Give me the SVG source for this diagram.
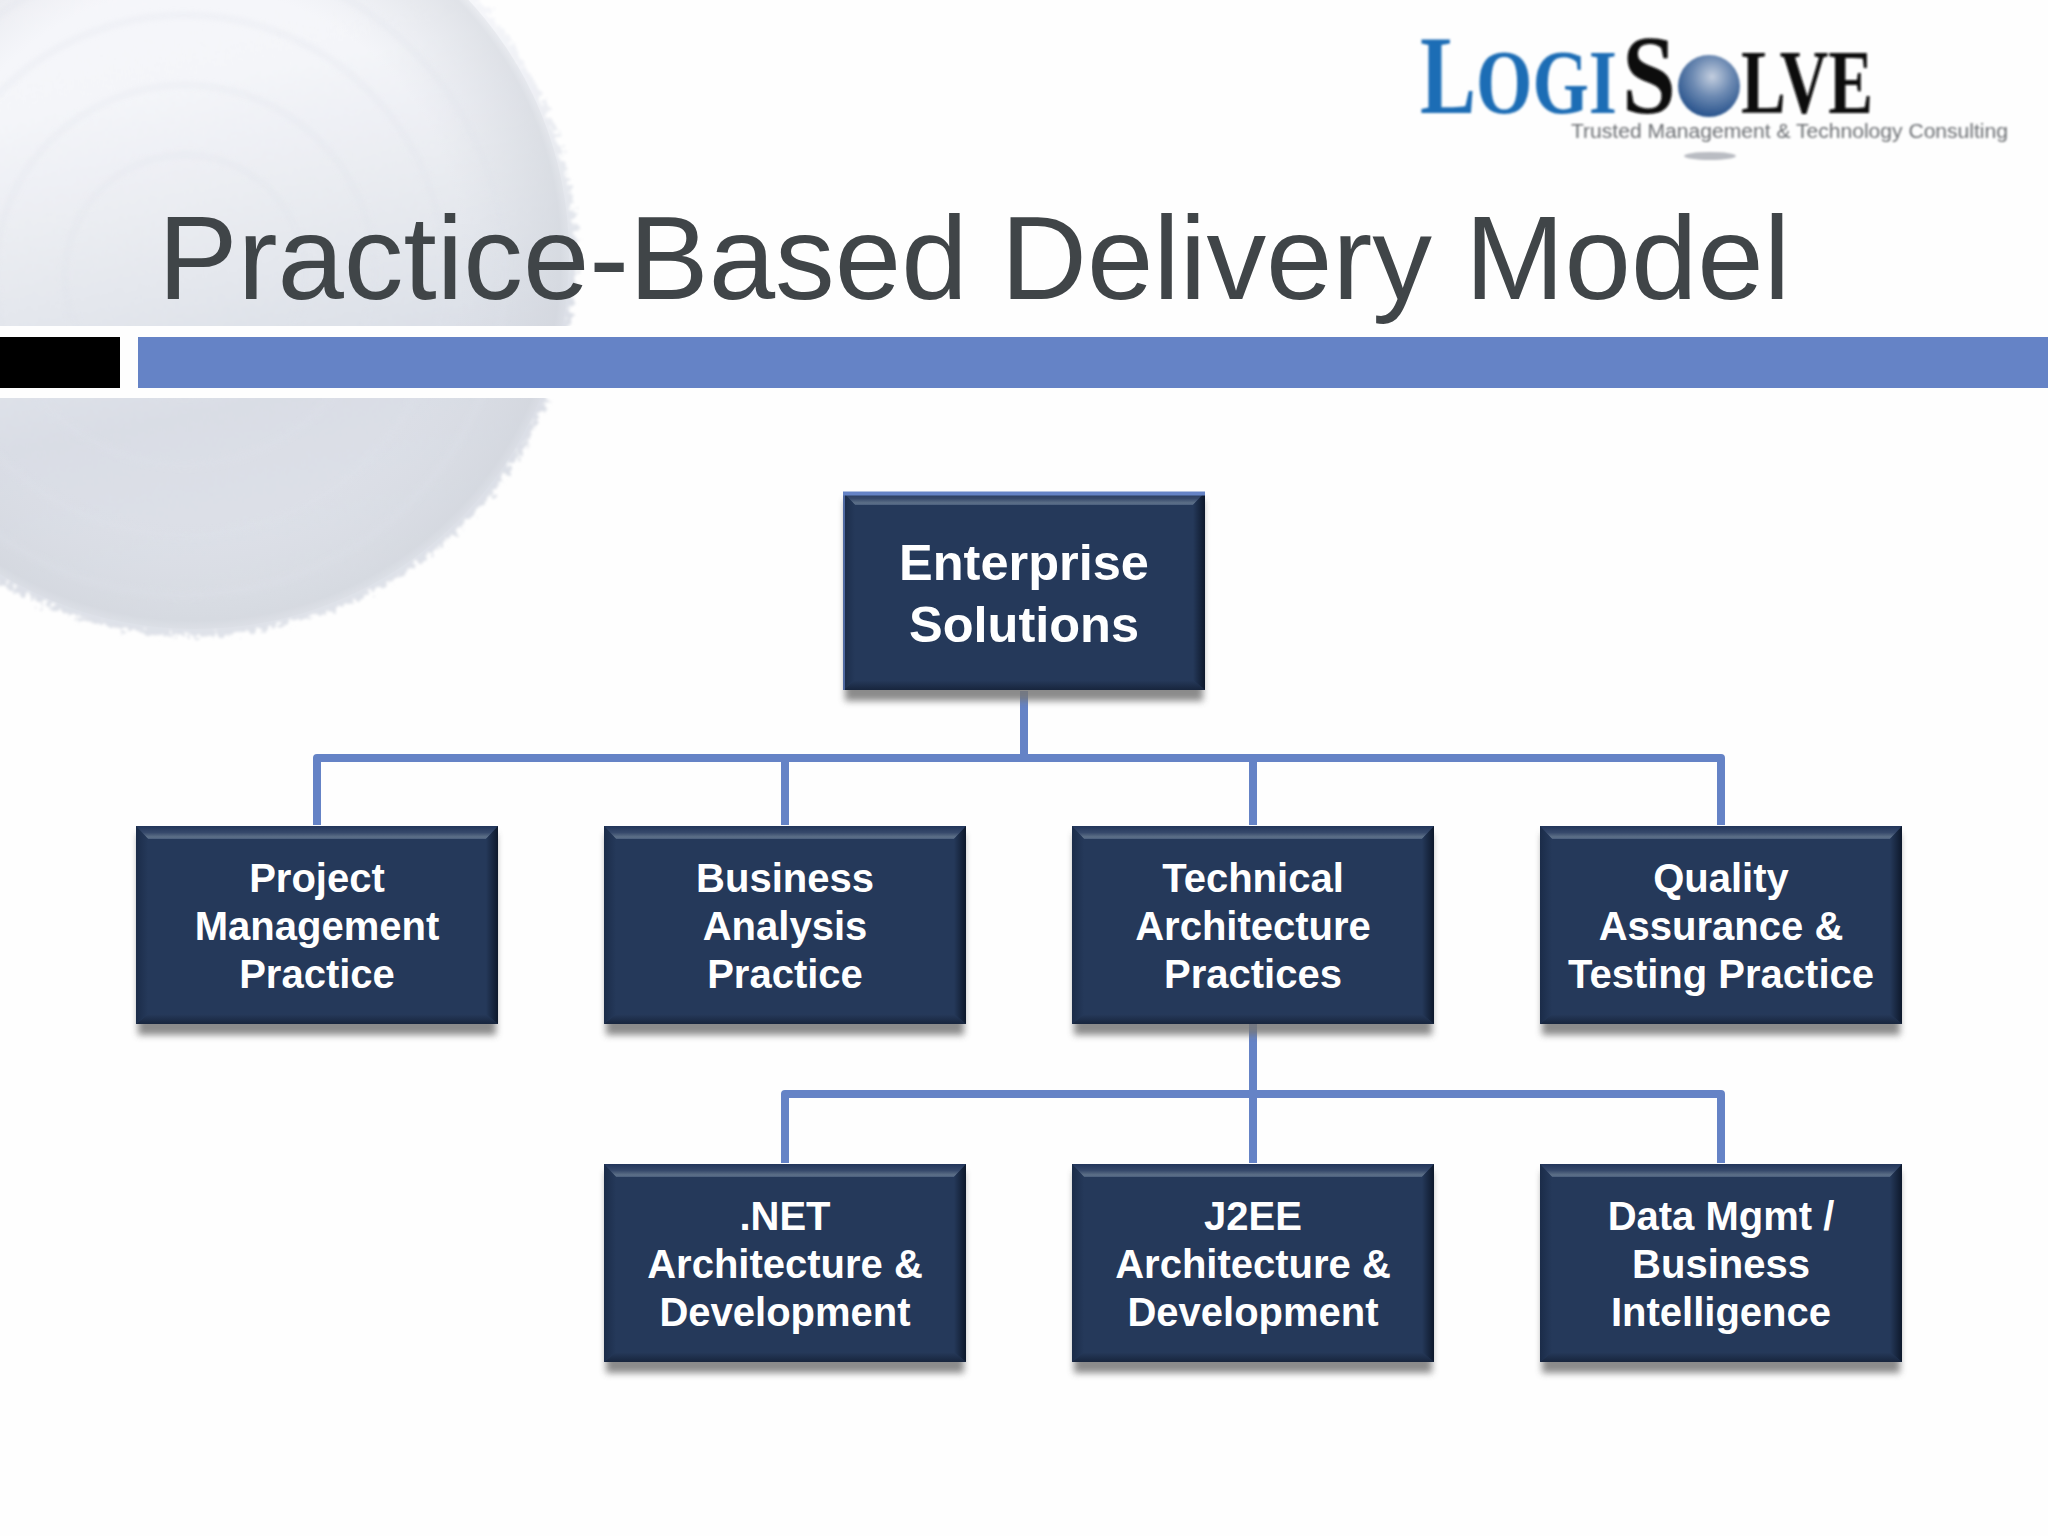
<svg xmlns="http://www.w3.org/2000/svg" width="2048" height="1536" viewBox="0 0 2048 1536">
<style>
.t{font-family:"Liberation Sans",Arial,sans-serif;font-weight:700;fill:#fff;text-anchor:middle;font-size:40px}
.r{font-size:50.500px}
.c{fill:none;stroke:#6583C6;stroke-width:8;stroke-linejoin:round;stroke-linecap:butt}
.ls{font-family:"Liberation Serif","Times New Roman",serif;font-weight:700}
</style>
<defs>
<linearGradient id="sph" x1="0.3" y1="0" x2="0.5" y2="1"><stop offset="0" stop-color="#f7f8fb"/><stop offset="0.3" stop-color="#f4f5f9"/><stop offset="0.55" stop-color="#e4e7ed"/><stop offset="0.72" stop-color="#d9dde5"/><stop offset="1" stop-color="#dfe2e9"/></linearGradient>
<radialGradient id="edge" gradientUnits="userSpaceOnUse" cx="195" cy="255" r="381"><stop offset="0.7" stop-color="#d5d9e0" stop-opacity="0"/><stop offset="0.96" stop-color="#cfd3da" stop-opacity="0.55"/><stop offset="1" stop-color="#dde0e6" stop-opacity="0.2"/></radialGradient>
<filter id="rough" x="-5%" y="-5%" width="110%" height="110%"><feTurbulence type="fractalNoise" baseFrequency="0.16" numOctaves="3" seed="7"/><feDisplacementMap in="SourceGraphic" scale="20" xChannelSelector="R" yChannelSelector="G"/><feGaussianBlur stdDeviation="1.6"/></filter>
<filter id="soft"><feGaussianBlur stdDeviation="3"/></filter>
<filter id="b05" x="-5%" y="-5%" width="110%" height="110%"><feGaussianBlur stdDeviation="0.9"/></filter>
<filter id="b1" x="-5%" y="-30%" width="110%" height="160%"><feGaussianBlur stdDeviation="0.8"/></filter>
<filter id="shadow" x="-5%" y="-10%" width="110%" height="120%"><feGaussianBlur stdDeviation="3.500"/></filter>
<radialGradient id="ball" cx="0.55" cy="0.35" r="0.7"><stop offset="0" stop-color="#c3cedf"/><stop offset="0.45" stop-color="#6e8bb3"/><stop offset="1" stop-color="#1d4a86"/></radialGradient>
<linearGradient id="bt" x1="0" y1="0" x2="0" y2="1"><stop offset="0" stop-color="#22355a"/><stop offset="0.5" stop-color="#36496b"/><stop offset="0.85" stop-color="#5d7088"/><stop offset="1" stop-color="#4a5e7d"/></linearGradient>
<linearGradient id="bb" x1="0" y1="0" x2="0" y2="1"><stop offset="0" stop-color="#263a5b"/><stop offset="1" stop-color="#17253d"/></linearGradient>
<linearGradient id="bl" x1="0" y1="0" x2="1" y2="0"><stop offset="0" stop-color="#1b2c49"/><stop offset="1" stop-color="#25395a"/></linearGradient>
<linearGradient id="br" x1="0" y1="0" x2="1" y2="0"><stop offset="0" stop-color="#25395a"/><stop offset="1" stop-color="#0d182b"/></linearGradient>
<symbol id="box" width="376" height="220" viewBox="0 0 376 220" overflow="visible">
<rect x="2" y="8" width="358" height="201" fill="#777" opacity="0.85" filter="url(#shadow)"/>
<rect x="0" y="0" width="362" height="198" fill="#25395a"/>
<polygon points="0,0 362,0 350,13 12,13" fill="url(#bt)"/>
<polygon points="0,198 362,198 350,188 12,188" fill="url(#bb)"/>
<polygon points="0,0 12,13 12,188 0,198" fill="url(#bl)"/>
<polygon points="362,0 350,13 350,188 362,198" fill="url(#br)"/>
</symbol>
</defs>
<rect width="2048" height="1536" fill="#fefefe"/>
<g id="background-sphere">
<circle cx="195" cy="255" r="381" fill="url(#sph)" filter="url(#rough)"/>
<circle cx="195" cy="255" r="374" fill="url(#edge)"/>
<g fill="none" stroke="#dfe2ea" stroke-width="3" opacity="0.6" filter="url(#soft)">
<circle cx="185" cy="275" r="120"/><circle cx="185" cy="275" r="190"/><circle cx="185" cy="275" r="260"/><circle cx="185" cy="275" r="320"/>
</g>
</g>
<rect x="0" y="326" width="2048" height="72" fill="#fefefe"/>
<rect x="0" y="337" width="120" height="51" fill="#000"/>
<rect x="138" y="337" width="1910" height="51" fill="#6583C6"/>
<g id="logo">
<g filter="url(#b05)">
<text class="ls" x="1420" y="113" font-size="112" fill="#1f6db5" textLength="56" lengthAdjust="spacingAndGlyphs">L</text>
<text class="ls" x="1476" y="113" font-size="91" fill="#1f6db5" textLength="141" lengthAdjust="spacingAndGlyphs">OGI</text>
<text class="ls" x="1622" y="113" font-size="112" fill="#0a0a0a" textLength="54" lengthAdjust="spacingAndGlyphs">S</text>
<circle cx="1709" cy="86" r="31" fill="url(#ball)"/>
<text class="ls" x="1741" y="113" font-size="91" fill="#0a0a0a" textLength="132" lengthAdjust="spacingAndGlyphs">LVE</text>
</g>
<text x="1571" y="138" font-family="'Liberation Sans',Arial,sans-serif" font-size="20" fill="#6b6e72" textLength="437" lengthAdjust="spacingAndGlyphs" filter="url(#b1)">Trusted Management &amp; Technology Consulting</text>
<ellipse cx="1710" cy="156" rx="26" ry="4" fill="#b9bcc2" filter="url(#b1)"/>
</g>
<text id="title" x="158" y="299" font-family="'Liberation Sans',Arial,sans-serif" font-size="119.400" fill="#404548">Practice-Based Delivery Model</text>
<g id="connectors">
<path class="c" d="M1024 691V758"/>
<path class="c" d="M317 825V758H1721V825"/>
<path class="c" d="M785 758V825"/>
<path class="c" d="M1253 758V825"/>
<path class="c" d="M1253 1024V1163"/>
<path class="c" d="M785 1163V1094H1721V1163"/>
</g>
<g id="node-enterprise"><use href="#box" x="843" y="492" width="376" height="220"/><path d="M843 493.500H1205" stroke="#6583C6" stroke-width="4"/><path d="M844 494L844 690" stroke="#6583C6" stroke-width="2" opacity="0.7"/><text class="t r" x="1024" y="580">Enterprise</text><text class="t r" x="1024" y="642">Solutions</text></g>
<g id="node-pm"><use href="#box" x="136" y="826" width="376" height="220"/><text class="t" x="317" y="892">Project</text><text class="t" x="317" y="940">Management</text><text class="t" x="317" y="988">Practice</text></g>
<g id="node-ba"><use href="#box" x="604" y="826" width="376" height="220"/><text class="t" x="785" y="892">Business</text><text class="t" x="785" y="940">Analysis</text><text class="t" x="785" y="988">Practice</text></g>
<g id="node-ta"><use href="#box" x="1072" y="826" width="376" height="220"/><text class="t" x="1253" y="892">Technical</text><text class="t" x="1253" y="940">Architecture</text><text class="t" x="1253" y="988">Practices</text></g>
<g id="node-qa"><use href="#box" x="1540" y="826" width="376" height="220"/><text class="t" x="1721" y="892">Quality</text><text class="t" x="1721" y="940">Assurance &amp;</text><text class="t" x="1721" y="988">Testing Practice</text></g>
<g id="node-net"><use href="#box" x="604" y="1164" width="376" height="220"/><text class="t" x="785" y="1230">.NET</text><text class="t" x="785" y="1278">Architecture &amp;</text><text class="t" x="785" y="1326">Development</text></g>
<g id="node-j2ee"><use href="#box" x="1072" y="1164" width="376" height="220"/><text class="t" x="1253" y="1230">J2EE</text><text class="t" x="1253" y="1278">Architecture &amp;</text><text class="t" x="1253" y="1326">Development</text></g>
<g id="node-data"><use href="#box" x="1540" y="1164" width="376" height="220"/><text class="t" x="1721" y="1230">Data Mgmt /</text><text class="t" x="1721" y="1278">Business</text><text class="t" x="1721" y="1326">Intelligence</text></g>
</svg>
